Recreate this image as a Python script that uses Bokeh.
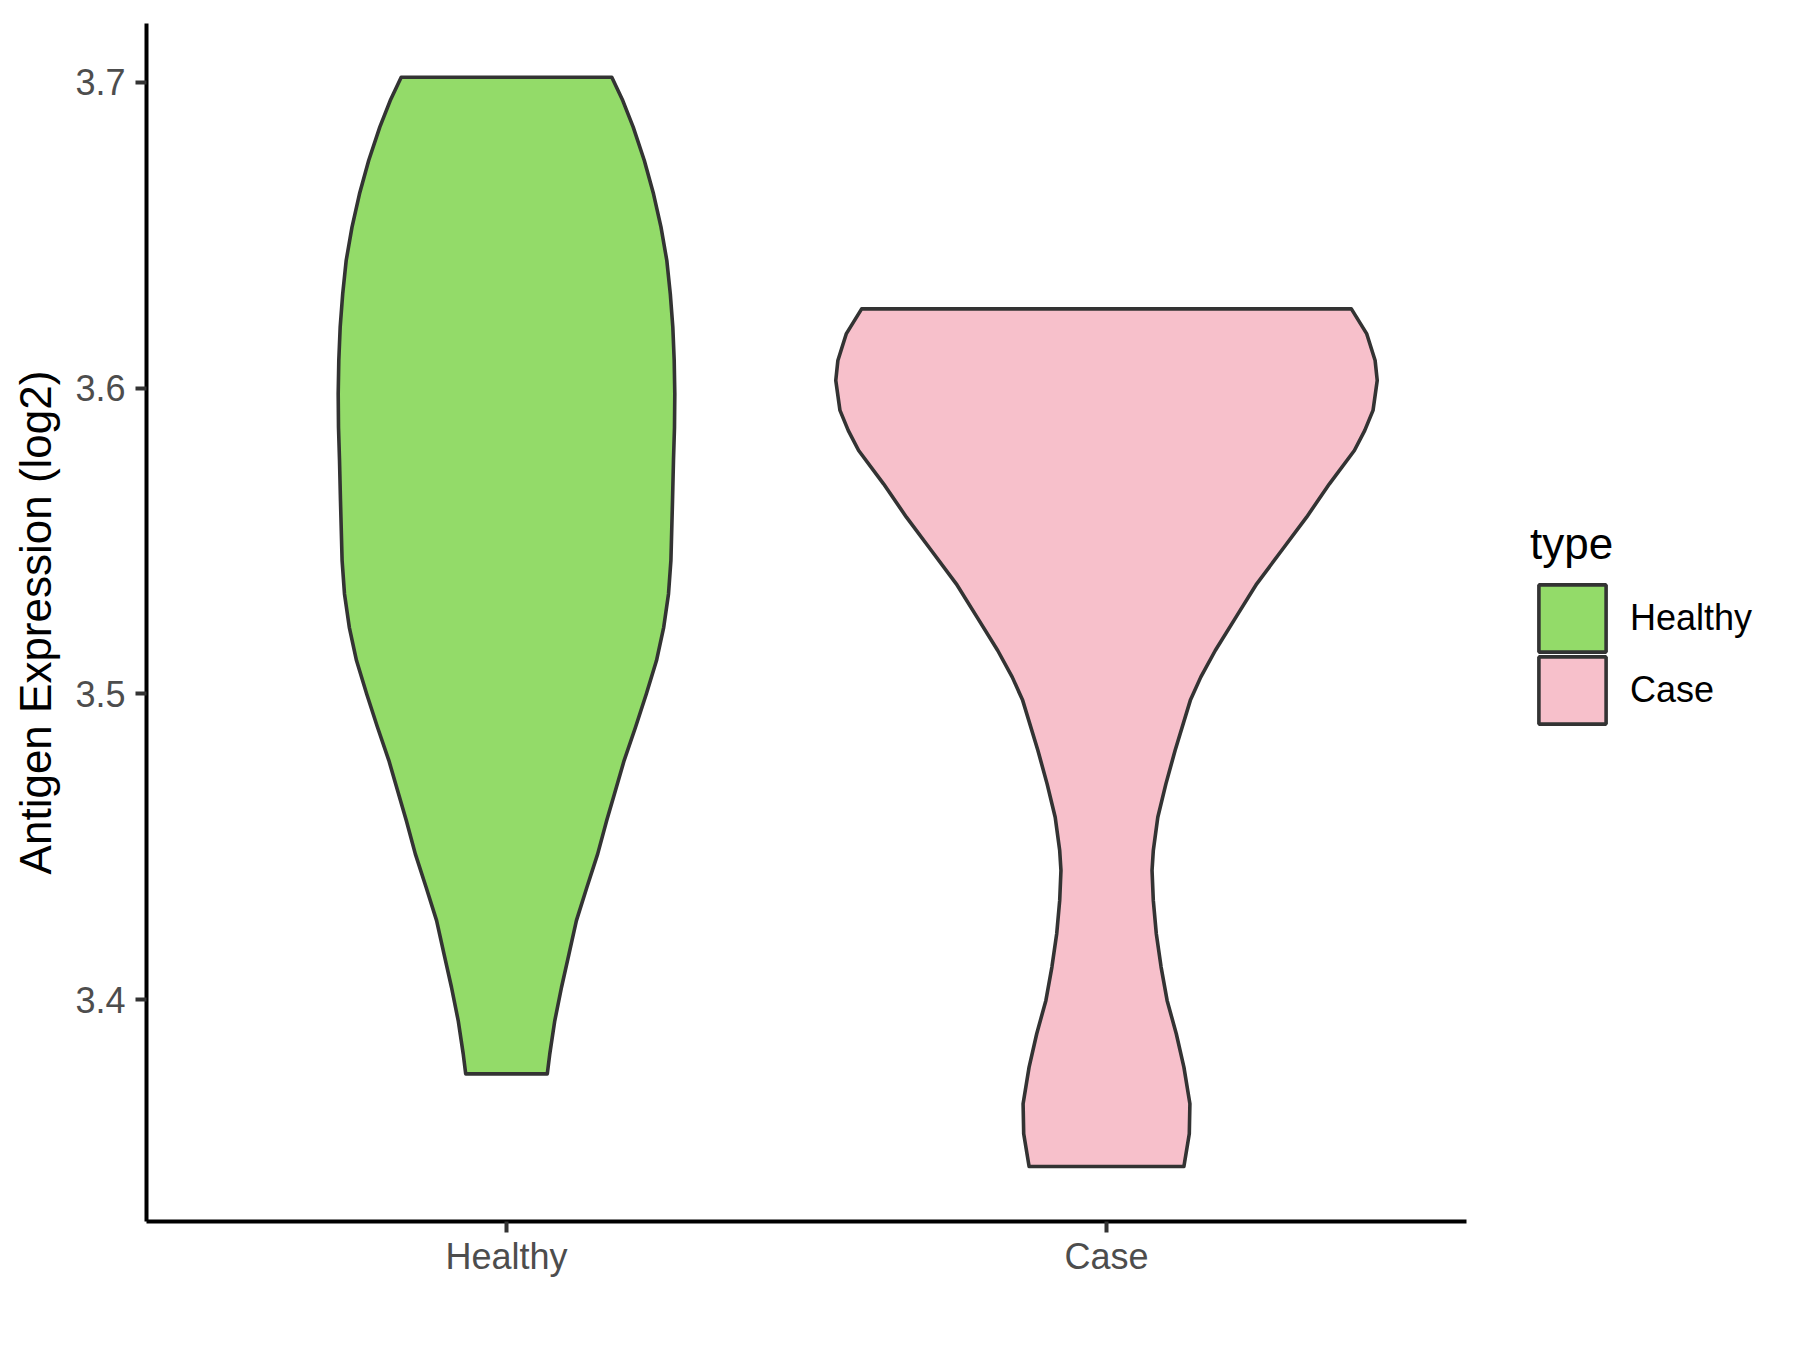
from bokeh.plotting import figure
from bokeh.layouts import row
from bokeh.models import Range1d, FixedTicker, Legend, LegendItem
from bokeh.embed import file_html
from bokeh.resources import INLINE

# ---------------- data ----------------
categories = ["Healthy", "Case"]
fill_colors = ["#93DB69", "#F7C0CB"]
y_ticks = [3.4, 3.5, 3.6, 3.7]
y_tick_labels = ["3.4", "3.5", "3.6", "3.7"]
y_title = "Antigen Expression (log2)"
legend_title = "type"

# violin outlines: expression value and half-width (in category units)
healthy_y = [3.3758, 3.3824, 3.3932, 3.4041, 3.4150, 3.4259, 3.4368, 3.4477,
             3.4586, 3.4674, 3.4782, 3.4891, 3.5000, 3.5109, 3.5218, 3.5327,
             3.5436, 3.5632, 3.5763, 3.5872, 3.5981, 3.6090, 3.6199, 3.6308,
             3.6417, 3.6526, 3.6635, 3.6744, 3.6853, 3.6940, 3.7016]
healthy_half_width = [0.0680, 0.0722, 0.0805, 0.0917, 0.1042, 0.1165, 0.1340, 0.1520,
                      0.1670, 0.1800, 0.1960, 0.2150, 0.2330, 0.2500, 0.2620, 0.2700,
                      0.2740, 0.2767, 0.2783, 0.2800, 0.2805, 0.2795, 0.2772, 0.2730,
                      0.2672, 0.2575, 0.2450, 0.2297, 0.2112, 0.1938, 0.1755]

case_y = [3.3455, 3.3562, 3.3660, 3.3780, 3.3889, 3.3998, 3.4107, 3.4216,
          3.4325, 3.4423, 3.4488, 3.4597, 3.4706, 3.4815, 3.4979, 3.5055,
          3.5142, 3.5251, 3.5360, 3.5469, 3.5578, 3.5687, 3.5796, 3.5861,
          3.5927, 3.6025, 3.6090, 3.6177, 3.6259]
case_half_width = [0.1290, 0.1380, 0.1390, 0.1290, 0.1163, 0.1010, 0.0910, 0.0830,
                   0.0780, 0.0759, 0.0780, 0.0855, 0.0990, 0.1143, 0.1397, 0.1571,
                   0.1813, 0.2158, 0.2504, 0.2919, 0.3335, 0.3716, 0.4131, 0.4303,
                   0.4442, 0.4512, 0.4477, 0.4338, 0.4081]

profiles = [(healthy_y, healthy_half_width), (case_y, case_half_width)]


def violin_polygon(center, ys, hws):
    xs_poly = [center - w for w in hws] + [center + w for w in reversed(hws)]
    ys_poly = list(ys) + list(reversed(ys))
    return xs_poly, ys_poly


# ---------------- main figure ----------------
FONT = "Liberation Sans"
OUTLINE = "#333333"
p = figure(width=1480, height=1330, output_backend="svg", toolbar_location=None,
           x_range=Range1d(0.4, 2.6), y_range=Range1d(3.32752, 3.71919),
           min_border_left=146, min_border_right=14,
           min_border_top=23, min_border_bottom=109)
p.outline_line_color = None
p.xgrid.grid_line_color = None
p.ygrid.grid_line_color = None
p.background_fill_color = "white"
p.border_fill_color = "white"

for i, (ys, hws) in enumerate(profiles):
    xs_poly, ys_poly = violin_polygon(i + 1, ys, hws)
    p.patch(xs_poly, ys_poly, fill_color=fill_colors[i], line_color=OUTLINE,
            line_width=3.6, line_join="round")

for ax in (p.xaxis[0], p.yaxis[0]):
    ax.axis_line_color = "black"
    ax.axis_line_width = 4
    ax.major_tick_line_color = OUTLINE
    ax.major_tick_line_width = 4
    ax.major_tick_out = 11
    ax.major_tick_in = 0
    ax.minor_tick_line_color = None
    ax.major_label_text_font = FONT
    ax.major_label_text_font_size = "36px"
    ax.major_label_text_color = "#4D4D4D"

p.xaxis.ticker = FixedTicker(ticks=[1, 2])
p.xaxis.major_label_overrides = {i + 1: c for i, c in enumerate(categories)}
p.xaxis.major_label_standoff = 3

p.yaxis.ticker = FixedTicker(ticks=y_ticks)
p.yaxis.major_label_overrides = {t: l for t, l in zip(y_ticks, y_tick_labels)}
p.yaxis.major_label_standoff = 10
p.yaxis.axis_label = y_title
p.yaxis.axis_label_text_font = FONT
p.yaxis.axis_label_text_font_size = "44px"
p.yaxis.axis_label_text_font_style = "normal"
p.yaxis.axis_label_text_color = "black"
p.yaxis.axis_label_standoff = 12

# ---------------- legend panel (separate figure to the right) ----------------
# the same violins are drawn here outside the visible range, only to feed the legend
q = figure(width=300, height=1330, output_backend="svg", toolbar_location=None,
           x_range=Range1d(-20, -19), y_range=Range1d(3.32752, 3.71919),
           x_axis_location=None, y_axis_location=None,
           min_border_left=0, min_border_right=0, min_border_top=23, min_border_bottom=109)
q.outline_line_color = None
q.xgrid.grid_line_color = None
q.ygrid.grid_line_color = None
q.background_fill_color = "white"
q.border_fill_color = "white"

legend_common = dict(orientation="vertical",
                     title_text_font=FONT, title_text_font_size="44px",
                     title_text_font_style="normal", title_text_color="black",
                     title_standoff=7,
                     label_text_font=FONT, label_text_font_size="36px",
                     label_text_color="black", label_standoff=16,
                     glyph_width=84, glyph_height=84, spacing=0,
                     padding=0, margin=0, border_line_color=None,
                     background_fill_alpha=0)
# one legend block per key so the keys sit as close together as in the reference
legend_offsets = [561, 489]
for i, (cat, (ys, hws)) in enumerate(zip(categories, profiles)):
    xs_poly, ys_poly = violin_polygon(i + 1, ys, hws)
    r = q.patch(xs_poly, ys_poly, fill_color=fill_colors[i], line_color=OUTLINE,
                line_width=3.6)
    lg = Legend(items=[LegendItem(label=cat, renderers=[r])],
                location=(50, legend_offsets[i]),
                title=legend_title if i == 0 else None, **legend_common)
    q.add_layout(lg, "center")

layout = row(p, q)
open("out.html", "w").write(file_html(layout, INLINE))
